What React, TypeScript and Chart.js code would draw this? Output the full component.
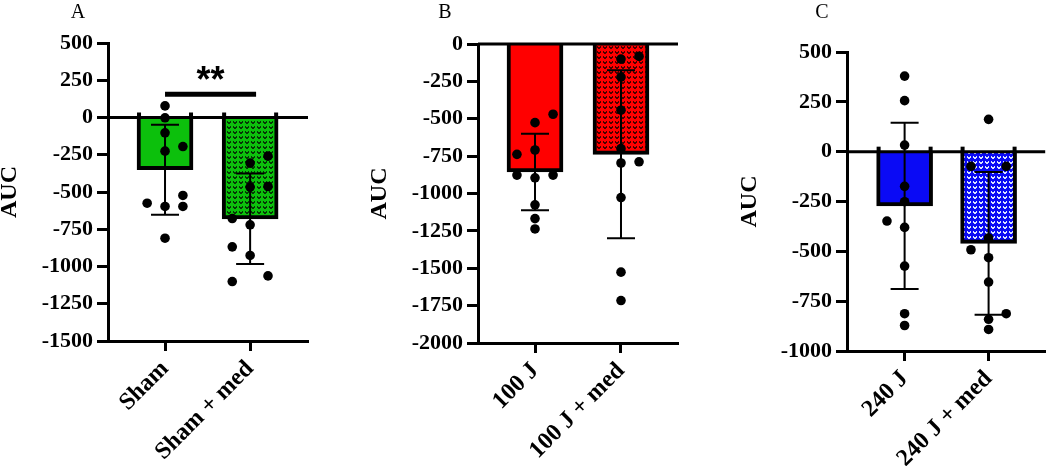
import React, { useEffect, useRef } from 'react';
import { Chart, registerables } from 'chart.js';
Chart.register(...registerables);

const FONT = '"Liberation Serif", "Times New Roman", serif';

// ---------- Panel A ----------
const catsA = ['Sham', 'Sham + med'];
const meanA = [-350, -680];
const sdA = [302, 304];
const ptsA0 = [78, -2, -103, -226, -195, -575, -597, -523, -597, -810];
const laneA0 = [0, 0, 0, 0, 1, -1, 0, 1, 1, 0];
const ptsA1 = [-259, -306, -467, -463, -678, -720, -868, -926, -1101, -1063];
const laneA1 = [1, 0, 0, 1, -1, 0, -1, 0, -1, 1];
const yTicksA = [500, 250, 0, -250, -500, -750, -1000, -1250, -1500];
const sigFromA = 0;
const sigToA = 1.07;
const sigValueA = 156;
const sigTextA = '**';

// ---------- Panel B ----------
const catsB = ['100 J', '100 J + med'];
const meanB = [-856, -738];
const sdB = [256, 562];
const ptsB0 = [-470, -526, -738, -709, -877, -877, -895, -1076, -1168, -1237];
const laneB0 = [1, 0, -1, 0, -1, 1, 0, 0, 0, 0];
const ptsB1 = [-101, -83, -221, -443, -700, -796, -788, -1027, -1526, -1716];
const laneB1 = [0, 1, 0, 0, 0, 0, 1, 0, 0, 0];
const yTicksB = [0, -250, -500, -750, -1000, -1250, -1500, -1750, -2000];

// ---------- Panel C ----------
const catsC = ['240 J', '240 J + med'];
const meanC = [-272, -460];
const sdC = [417, 358];
const ptsC0 = [379, 256, 33, -174, -251, -348, -380, -574, -813, -872];
const laneC0 = [0, 0, 0, 0, 0, -1, 0, 0, 0, 0];
const ptsC1 = [162, -74, -74, -433, -492, -532, -654, -813, -841, -892];
const laneC1 = [0, -1, 1, 0, -1, 0, 0, 1, 0, 0];
const yTicksC = [500, 250, 0, -250, -500, -750, -1000];

function makePattern(bg: string, fg: string): CanvasPattern | string {
  const c = document.createElement('canvas');
  c.width = 6;
  c.height = 5;
  const g = c.getContext('2d');
  if (!g) return bg;
  g.fillStyle = bg;
  g.fillRect(0, 0, 6, 5);
  g.fillStyle = fg;
  const px = [[1, 1], [4, 1], [2, 2], [3, 2], [1, 2], [4, 2], [2, 3], [3, 3]];
  px.forEach(([x, y]) => g.fillRect(x, y, 1, 1));
  const p = g.createPattern(c, 'repeat');
  return p || bg;
}

type PanelProps = {
  left: number;
  width: number;
  padTop: number;
  padRight: number;
  xHeight: number;
  yWidth: number;
  xMin: number;
  xMax: number;
  cats: string[];
  means: number[];
  sds: number[];
  points: number[][];
  lanes: number[][];
  yTicks: number[];
  color: string;
  patFg: string;
  stubs: boolean;
  sig?: { from: number; to: number; value: number; text: string };
};

function Panel(props: PanelProps) {
  const ref = useRef<HTMLCanvasElement>(null);
  useEffect(() => {
    const canvas = ref.current;
    if (!canvas) return;
    const p = props;
    const laneStep = 0.21;
    const scatterData: { x: number; y: number }[] = [];
    p.points.forEach((arr, gi) => {
      arr.forEach((v, j) => scatterData.push({ x: gi + p.lanes[gi][j] * laneStep, y: v }));
    });
    const fills = [p.color, makePattern(p.color, p.patFg)];
    const tickFont = { family: FONT, weight: 'bold' as const, size: 22 };
    const xTickFont = { family: FONT, weight: 'bold' as const, size: 24 };

    const overlay = {
      id: 'overlay',
      afterDatasetDraw(chart: any, args: any) {
        if (args.meta.type !== 'bar') return;
        const ctx = chart.ctx;
        const xs = chart.scales.x;
        const ys = chart.scales.y;
        const area = chart.chartArea;
        const zeroY = ys.getPixelForValue(0);
        ctx.save();
        ctx.fillStyle = '#000';
        ctx.strokeStyle = '#000';
        ctx.lineWidth = 3;
        ctx.beginPath();
        ctx.moveTo(area.left, zeroY);
        ctx.lineTo(area.right, zeroY);
        ctx.stroke();
        if (p.stubs) {
          args.meta.data.forEach((el: any) => {
            const { x, width } = el.getProps(['x', 'width'], true);
            ctx.fillRect(x - width / 2, zeroY - 5, 4, 5);
            ctx.fillRect(x + width / 2 - 4, zeroY - 5, 4, 5);
          });
        }
        ctx.lineWidth = 2;
        p.means.forEach((m, i) => {
          const x = xs.getPixelForValue(i);
          const yt = ys.getPixelForValue(m + p.sds[i]);
          const yb = ys.getPixelForValue(m - p.sds[i]);
          ctx.beginPath();
          ctx.moveTo(x, yt);
          ctx.lineTo(x, yb);
          ctx.moveTo(x - 14, yt);
          ctx.lineTo(x + 14, yt);
          ctx.moveTo(x - 14, yb);
          ctx.lineTo(x + 14, yb);
          ctx.stroke();
        });
        ctx.restore();
      },
      afterDraw(chart: any) {
        if (!p.sig) return;
        const ctx = chart.ctx;
        const xs = chart.scales.x;
        const ys = chart.scales.y;
        const x1 = xs.getPixelForValue(p.sig.from);
        const x2 = xs.getPixelForValue(p.sig.to);
        const y = ys.getPixelForValue(p.sig.value);
        ctx.save();
        ctx.strokeStyle = '#000';
        ctx.lineWidth = 5;
        ctx.beginPath();
        ctx.moveTo(x1, y);
        ctx.lineTo(x2, y);
        ctx.stroke();
        ctx.fillStyle = '#000';
        ctx.font = 'bold 36px "Liberation Sans", Arial, sans-serif';
        ctx.textAlign = 'center';
        ctx.textBaseline = 'alphabetic';
        ctx.fillText(p.sig.text, (x1 + x2) / 2, y - 2);
        ctx.restore();
      },
    };

    const chart = new Chart(canvas, {
      type: 'bar',
      data: {
        datasets: [
          {
            type: 'scatter',
            data: scatterData,
            pointRadius: 4.8,
            pointHoverRadius: 4.8,
            backgroundColor: '#000',
            borderWidth: 0,
            order: 0,
          } as any,
          {
            type: 'bar',
            data: p.cats.map((_, i) => ({ x: i, y: p.means[i] })),
            backgroundColor: fills,
            borderColor: '#000',
            borderWidth: 4,
            borderSkipped: 'start',
            barThickness: 56,
            order: 1,
          } as any,
        ],
      },
      options: {
        responsive: false,
        animation: false,
        events: [],
        layout: { padding: { top: p.padTop, right: p.padRight, bottom: 0, left: 0 } },
        plugins: { legend: { display: false }, tooltip: { enabled: false } },
        scales: {
          x: {
            type: 'linear',
            offset: false,
            min: p.xMin,
            max: p.xMax,
            afterBuildTicks: (s: any) => {
              s.ticks = p.cats.map((_, i) => ({ value: i }));
            },
            afterFit: (s: any) => {
              s.height = p.xHeight;
            },
            ticks: {
              autoSkip: false,
              maxRotation: 45,
              minRotation: 45,
              padding: 4,
              font: xTickFont,
              color: '#000',
              callback: (v: any) => p.cats[v] ?? '',
            },
            grid: { offset: false, drawOnChartArea: false, drawTicks: true, tickLength: 10, tickWidth: 3, tickColor: '#000' },
            border: { color: '#000', width: 3 },
          },
          y: {
            type: 'linear',
            min: Math.min(...p.yTicks),
            max: Math.max(...p.yTicks),
            afterBuildTicks: (s: any) => {
              s.ticks = p.yTicks.map((v) => ({ value: v }));
            },
            afterFit: (s: any) => {
              s.width = p.yWidth;
            },
            ticks: { padding: 4, font: tickFont, color: '#000', callback: (v: any) => String(v) },
            grid: { drawOnChartArea: false, drawTicks: true, tickLength: 11, tickWidth: 3, tickColor: '#000' },
            border: { color: '#000', width: 3 },
            title: {
              display: true,
              text: 'AUC',
              color: '#000',
              padding: 0,
              font: { family: FONT, weight: 'bold', size: 24, lineHeight: 1 },
            },
          },
        },
      } as any,
      plugins: [overlay],
    });
    return () => chart.destroy();
  }, []);
  return (
    <canvas
      ref={ref}
      width={props.width}
      height={466}
      style={{ position: 'absolute', left: props.left, top: 0, width: props.width, height: 466 }}
    />
  );
}

const letterStyle = (left: number): React.CSSProperties => ({
  position: 'absolute',
  left,
  top: 0,
  width: 40,
  textAlign: 'center',
  fontFamily: FONT,
  fontSize: 20,
  lineHeight: '22px',
  color: '#000',
});

export default function App() {
  return (
    <div style={{ position: 'absolute', left: 0, top: 0, width: 1050, height: 466, background: '#fff', overflow: 'hidden' }}>
      <Panel
        left={-2}
        width={320}
        padTop={43}
        padRight={10}
        xHeight={125}
        yWidth={110}
        xMin={-0.67}
        xMax={1.68}
        cats={catsA}
        means={meanA}
        sds={sdA}
        points={[ptsA0, ptsA1]}
        lanes={[laneA0, laneA1]}
        yTicks={yTicksA}
        color="#0cc00c"
        patFg="#063806"
        stubs={true}
        sig={{ from: sigFromA, to: sigToA, value: sigValueA, text: sigTextA }}
      />
      <Panel
        left={368}
        width={330}
        padTop={44}
        padRight={20}
        xHeight={123}
        yWidth={110}
        xMin={-0.663}
        xMax={1.663}
        cats={catsB}
        means={meanB}
        sds={sdB}
        points={[ptsB0, ptsB1]}
        lanes={[laneB0, laneB1]}
        yTicks={yTicksB}
        color="#ff0000"
        patFg="#4a0000"
        stubs={false}
      />
      <Panel
        left={738}
        width={312}
        padTop={52}
        padRight={0}
        xHeight={115}
        yWidth={109}
        xMin={-0.686}
        xMax={1.674}
        cats={catsC}
        means={meanC}
        sds={sdC}
        points={[ptsC0, ptsC1]}
        lanes={[laneC0, laneC1]}
        yTicks={yTicksC}
        color="#0a0af5"
        patFg="#d8e0ff"
        stubs={true}
      />
      <div style={letterStyle(58)}>A</div>
      <div style={letterStyle(425)}>B</div>
      <div style={letterStyle(802)}>C</div>
    </div>
  );
}
